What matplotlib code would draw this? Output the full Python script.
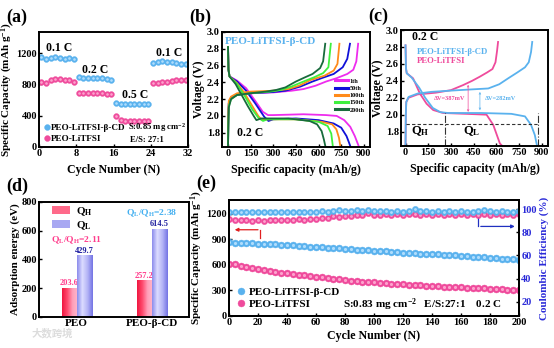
import numpy as np
import matplotlib
matplotlib.use("Agg")
import matplotlib.pyplot as plt
from matplotlib.colors import LinearSegmentedColormap
from matplotlib.patches import Patch
from matplotlib.lines import Line2D

plt.rcParams['font.family'] = ['Liberation Serif', 'DejaVu Serif']
plt.rcParams['font.weight'] = 'bold'
plt.rcParams['axes.labelweight'] = 'bold'
plt.rcParams['axes.linewidth'] = 1.4
plt.rcParams['mathtext.fontset'] = 'custom'
plt.rcParams['mathtext.rm'] = 'Liberation Serif:bold'
plt.rcParams['mathtext.it'] = 'Liberation Serif:italic:bold'
plt.rcParams['mathtext.bf'] = 'Liberation Serif:bold'

BLUE = '#5ab2ee'
PINK = '#ef4b9c'
BLUE_HI = '#bfe4ff'
PINK_HI = '#ffb3d6'
LAB = 8.6
YLAB = 8.0

# ---------------- (a) rate performance ----------------
rate_cycles = np.arange(1, 33) - 0.5
rate_cd = [1148, 1125, 1135, 1150, 1140, 1125, 1140, 1130,
           895, 885, 884, 883, 880, 884, 872, 862,
           556, 547, 545, 550, 548, 550, 545, 547,
           1075, 1090, 1098, 1092, 1085, 1078, 1066, 1064]
rate_ref = [830, 818, 862, 872, 866, 856, 850, 832,
            692, 688, 686, 688, 686, 684, 682, 674,
            393, 345, 336, 333, 332, 332, 331, 330,
            812, 818, 828, 834, 846, 860, 858, 850]
rate_labels = ['0.1 C', '0.2 C', '0.5 C', '0.1 C']
rate_label_pos = [(4.4, 1265), (12.1, 985), (20.6, 665), (27.9, 1200)]

# ---------------- (b) cycling charge/discharge curves ----------------
b_names = ['1th', '50th', '100th', '150th', '200th']
b_colors = ['#ee2cee', '#1010d8', '#ff8a1a', '#3ef03e', '#186b3c']
b_dis_cap = [
    [0, 3, 10, 60, 120, 180, 230, 265, 300, 500, 650, 720, 770, 810, 840, 868],
    [0, 3, 10, 60, 120, 180, 240, 268, 300, 450, 600, 700, 750, 785, 800, 812],
    [0, 3, 10, 60, 110, 160, 200, 225, 260, 450, 620, 690, 718, 735, 745],
    [0, 3, 10, 60, 110, 160, 200, 232, 260, 450, 600, 660, 684, 695],
    [0, 3, 10, 50, 90, 130, 170, 188, 220, 400, 540, 590, 620, 635, 646],
]
b_dis_v = [
    [2.82, 2.55, 2.47, 2.42, 2.33, 2.18, 2.05, 2.01, 2.01, 2.02, 2.01, 2.00, 1.95, 1.87, 1.76, 1.63],
    [2.82, 2.55, 2.47, 2.41, 2.30, 2.15, 1.99, 1.94, 1.96, 1.97, 1.95, 1.91, 1.86, 1.76, 1.69, 1.63],
    [2.82, 2.55, 2.47, 2.39, 2.27, 2.12, 2.00, 1.95, 1.96, 1.96, 1.93, 1.90, 1.84, 1.74, 1.63],
    [2.82, 2.55, 2.47, 2.38, 2.24, 2.08, 1.98, 1.94, 1.96, 1.96, 1.93, 1.88, 1.79, 1.63],
    [2.82, 2.55, 2.47, 2.38, 2.25, 2.12, 2.00, 1.95, 1.97, 1.97, 1.94, 1.90, 1.82, 1.72, 1.63],
]
b_chg_cap = [
    [0, 2, 5, 20, 60, 150, 300, 420, 500, 580, 650, 720, 790, 830, 850, 862],
    [0, 2, 5, 20, 60, 150, 300, 380, 480, 560, 620, 700, 760, 790, 808],
    [0, 2, 5, 20, 60, 150, 300, 400, 470, 550, 640, 700, 725, 738],
    [0, 2, 5, 20, 60, 150, 280, 350, 420, 500, 570, 630, 665, 681],
    [0, 2, 5, 20, 60, 150, 250, 320, 380, 450, 510, 560, 610, 630, 644],
]
b_chg_v = [
    [1.63, 2.00, 2.15, 2.22, 2.25, 2.27, 2.28, 2.30, 2.32, 2.36, 2.41, 2.45, 2.50, 2.55, 2.65, 2.86],
    [1.63, 2.00, 2.15, 2.22, 2.25, 2.27, 2.285, 2.30, 2.35, 2.41, 2.45, 2.50, 2.58, 2.68, 2.86],
    [1.63, 2.05, 2.18, 2.23, 2.27, 2.29, 2.30, 2.32, 2.36, 2.43, 2.48, 2.54, 2.62, 2.86],
    [1.63, 1.90, 2.12, 2.20, 2.25, 2.27, 2.29, 2.31, 2.35, 2.41, 2.46, 2.51, 2.58, 2.86],
    [1.63, 1.85, 2.10, 2.20, 2.25, 2.27, 2.29, 2.31, 2.34, 2.41, 2.46, 2.50, 2.57, 2.65, 2.86],
]

# ---------------- (c) comparison curves ----------------
c_cd_dis_cap = [0, 3, 8, 40, 90, 130, 180, 230, 280, 500, 700, 790, 830, 855, 870]
c_cd_dis_v = [2.82, 2.55, 2.49, 2.44, 2.32, 2.20, 2.08, 2.03, 2.02, 2.02, 2.01, 1.98, 1.88, 1.76, 1.63]
c_cd_chg_cap = [0, 2, 5, 20, 80, 172, 350, 547, 620, 679, 740, 790, 815, 830, 838]
c_cd_chg_v = [1.63, 2.00, 2.15, 2.21, 2.25, 2.27, 2.29, 2.31, 2.36, 2.43, 2.50, 2.56, 2.62, 2.74, 2.86]
c_ref_dis_cap = [0, 3, 8, 50, 95, 139, 183, 249, 400, 536, 580, 624, 640]
c_ref_dis_v = [2.82, 2.55, 2.49, 2.43, 2.25, 2.13, 2.055, 2.02, 2.01, 2.00, 1.88, 1.66, 1.63]
c_ref_chg_cap = [0, 2, 5, 20, 80, 200, 300, 381, 440, 492, 540, 575, 595, 605, 612]
c_ref_chg_v = [1.63, 2.00, 2.15, 2.20, 2.24, 2.26, 2.29, 2.35, 2.40, 2.45, 2.50, 2.54, 2.62, 2.75, 2.86]
q_split_cap = [260, 874]
q_level_v = 1.886
dv_ref = (414, 2.00, 2.387)
dv_cd = (492, 2.02, 2.302)

# ---------------- (d) adsorption energy ----------------
d_groups = ['PEO', 'PEO-β-CD']
d_qh = [203.6, 257.2]
d_ql = [429.7, 614.5]
d_ratio = ['Q$_\\mathrm{L}$/Q$_\\mathrm{H}$=2.11', 'Q$_\\mathrm{L}$/Q$_\\mathrm{H}$=2.38']

# ---------------- (e) long cycling ----------------
e_cycles = np.arange(0, 201, 4)
e_cap_cd = [868, 858, 853, 851, 852, 850, 847, 843, 839, 836,
            832, 828, 823, 819, 814, 810, 806, 801, 796, 792,
            787, 783, 778, 774, 769, 765, 761, 757, 753, 749,
            745, 741, 737, 733, 729, 725, 722, 718, 714, 710,
            706, 701, 696, 691, 687, 682, 677, 672, 667, 663, 658]
e_cap_ref = [608, 614, 590, 575, 560, 547, 537, 527, 517, 508,
             499, 491, 483, 476, 468, 461, 453, 445, 437, 429,
             421, 415, 409, 404, 398, 393, 388, 383, 378, 374,
             370, 366, 362, 358, 355, 352, 349, 346, 343, 340,
             337, 334, 331, 328, 325, 322, 318, 314, 310, 306, 302]
e_ce_cd = [97.5, 97.8, 97.6, 97.9, 97.7, 97.8, 97.6, 97.9, 98.0, 97.8,
           97.9, 97.7, 98.0, 97.8, 98.1, 97.9, 98.2, 98.0, 98.8, 99.0,
           98.6, 98.9, 99.2, 98.8, 99.6, 98.9, 98.4, 98.2, 98.0, 98.3,
           98.1, 98.4, 99.9, 98.6, 98.3, 98.1, 98.2, 98.0, 98.3, 98.1,
           98.2, 98.0, 98.1, 98.3, 99.6, 98.2, 98.0, 98.2, 98.1, 98.0, 98.2]
e_ce_ref = [91.5, 90.8, 90.5, 90.7, 90.2, 90.6, 90.3, 90.8, 90.5, 90.9,
            90.7, 91.0, 91.2, 91.0, 91.4, 91.8, 92.3, 92.8, 94.0, 93.6,
            94.2, 94.6, 95.0, 95.3, 96.5, 95.4, 95.5, 95.6, 95.5, 95.6,
            95.5, 95.6, 95.6, 95.5, 95.6, 95.5, 95.6, 95.5, 95.6, 95.5,
            95.6, 95.5, 95.6, 95.5, 95.6, 95.5, 95.6, 95.5, 95.6, 95.5, 95.6]


def style(ax, size=7.5):
    ax.tick_params(direction='in', length=2.5, width=1.0, labelsize=size, pad=1.5)
    for lab in ax.get_xticklabels() + ax.get_yticklabels():
        lab.set_fontweight('bold')


def balls(ax, x, y, color, hi, ms, label=None):
    ax.plot(x, y, 'o', color=color, ms=ms, mec=color, mew=0.3, ls='none', label=label)
    ax.plot(x, y, 'o', color=hi, ms=ms * 0.45, mew=0, ls='none', alpha=0.85)


fig = plt.figure(figsize=(5.54, 3.48), dpi=100)
ax_a = fig.add_axes([0.0704, 0.5776, 0.269, 0.3305])
ax_b = fig.add_axes([0.4007, 0.5776, 0.267, 0.3305])
ax_c = fig.add_axes([0.7238, 0.5805, 0.2653, 0.333])
ax_d = fig.add_axes([0.0704, 0.0891, 0.2708, 0.3305])
ax_e = fig.add_axes([0.4134, 0.092, 0.5235, 0.333])

# (a)
balls(ax_a, rate_cycles, rate_cd, BLUE, BLUE_HI, 4.2, 'PEO-LiTFSI-β-CD')
balls(ax_a, rate_cycles, rate_ref, PINK, PINK_HI, 4.2, 'PEO-LiTFSI')
for t, (x, y) in zip(rate_labels, rate_label_pos):
    ax_a.text(x, y, t, ha='center', va='center', fontsize=8.5, fontweight='bold')
ax_a.set_xlim(0, 32)
ax_a.set_ylim(0, 1470)
ax_a.set_xticks([0, 8, 16, 24, 32])
ax_a.set_yticks([0, 400, 800, 1200])
ax_a.set_xlabel('Cycle Number (N)', fontsize=LAB, labelpad=4)
ax_a.set_ylabel('Specific Capacity (mAh g$^{-1}$)', fontsize=YLAB, labelpad=1)
ax_a.legend(loc='lower left', fontsize=6.6, frameon=False, handletextpad=0.05,
            handlelength=0.9, labelspacing=0.3, borderaxespad=0.0,
            bbox_to_anchor=(0.0, 0.0))
ax_a.text(19.2, 243, 'S:0.85 mg cm$^{-2}$', ha='left', va='center', fontsize=6.2)
ax_a.text(19.6, 89, 'E/S: 27:1', ha='left', va='center', fontsize=6.2)
style(ax_a)

# (b)
for i in range(5):
    ax_b.plot(b_dis_cap[i], b_dis_v[i], color=b_colors[i], lw=1.3)
    ax_b.plot(b_chg_cap[i], b_chg_v[i], color=b_colors[i], lw=1.3)
handles_b = [Line2D([], [], color=c, lw=2.2) for c in b_colors]
ax_b.legend(handles_b, b_names, loc='upper left', bbox_to_anchor=(0.75, 0.62),
            fontsize=4.5, frameon=False, handlelength=2.0, handletextpad=0.3,
            labelspacing=0.3, borderaxespad=0)
ax_b.text(-22, 2.885, 'PEO-LiTFSI-β-CD', color=BLUE, fontsize=8, va='center')
ax_b.text(62, 1.795, '0.2 C', fontsize=8.5, va='center', ha='left')
ax_b.set_xlim(-40, 940)
ax_b.set_ylim(1.63, 3.0)
ax_b.set_xticks(np.arange(0, 901, 150))
ax_b.set_yticks([1.8, 2.0, 2.2, 2.4, 2.6, 2.8, 3.0])
ax_b.set_xlabel('Specific capacity (mAh/g)', fontsize=LAB, labelpad=4)
ax_b.set_ylabel('Voltage (V)', fontsize=LAB, labelpad=1)
style(ax_b)

# (c)
ax_c.plot(c_ref_dis_cap, c_ref_dis_v, color=PINK, lw=1.3)
ax_c.plot(c_ref_chg_cap, c_ref_chg_v, color=PINK, lw=1.3)
ax_c.plot(c_cd_dis_cap, c_cd_dis_v, color=BLUE, lw=1.3)
ax_c.plot(c_cd_chg_cap, c_cd_chg_v, color=BLUE, lw=1.3)
ax_c.plot([0, 878], [q_level_v, q_level_v], color='#333333', lw=0.8, ls=(0, (3, 2)))
for q in q_split_cap:
    ax_c.plot([q, q], [1.63, 2.02], color='#333333', lw=0.8, ls='-.')
ax_c.annotate('', xy=(dv_ref[0], dv_ref[1]), xytext=(dv_ref[0], dv_ref[2]),
              arrowprops=dict(arrowstyle='<->', color=PINK, lw=0.5, mutation_scale=3))
ax_c.annotate('', xy=(dv_cd[0], dv_cd[1]), xytext=(dv_cd[0], dv_cd[2]),
              arrowprops=dict(arrowstyle='<->', color=BLUE, lw=0.5, mutation_scale=3))
ax_c.text(293, 2.19, 'ΔV=387mV', color=PINK, fontsize=4.5, ha='center', va='center')
ax_c.text(631, 2.19, 'ΔV=282mV', color=BLUE, fontsize=4.5, ha='center', va='center')
ax_c.text(42, 2.92, '0.2 C', fontsize=8.5, va='center')
ax_c.text(73, 2.745, 'PEO-LiTFSI-β-CD', color=BLUE, fontsize=6.3, va='center')
ax_c.text(73, 2.635, 'PEO-LiTFSI', color=PINK, fontsize=6.3, va='center')
ax_c.text(100, 1.80, 'Q$_\\mathrm{H}$', fontsize=9, ha='center', va='center')
ax_c.text(437, 1.80, 'Q$_\\mathrm{L}$', fontsize=9, ha='center', va='center')
ax_c.set_xlim(-30, 942)
ax_c.set_ylim(1.63, 3.0)
ax_c.set_xticks(np.arange(0, 901, 150))
ax_c.set_yticks([1.8, 2.0, 2.2, 2.4, 2.6, 2.8, 3.0])
ax_c.set_xlabel('Specific capacity (mAh/g)', fontsize=LAB, labelpad=4)
ax_c.set_ylabel('Voltage (V)', fontsize=LAB, labelpad=1)
style(ax_c)

# (d)
pos = np.arange(len(d_groups))
w = 0.2
cm_h = LinearSegmentedColormap.from_list('qh', ['#f0163f', '#ff4a6e', '#ff9fba', '#ffb8cc'])
cm_l = LinearSegmentedColormap.from_list('ql', ['#8c8cec', '#dcdcff', '#b4b4f6', '#7474e4'])
bars_h = ax_d.bar(pos - w / 2, d_qh, w, color='#ff5c80', zorder=2)
bars_l = ax_d.bar(pos + w / 2, d_ql, w, color='#a8a8f2', zorder=2)
grad = np.linspace(0, 1, 64).reshape(1, -1)
for bars, cm in [(bars_h, cm_h), (bars_l, cm_l)]:
    for b in bars:
        x0, bw, h = b.get_x(), b.get_width(), b.get_height()
        im = ax_d.imshow(grad, cmap=cm, extent=(x0, x0 + bw, 0, h), aspect='auto', zorder=2.5)
        im.set_clip_path(b)
for i in range(len(d_groups)):
    ax_d.text(pos[i] - w / 2, d_qh[i] + 2, f'{d_qh[i]:.1f}', color='#ff3c8c', fontsize=6.0,
              ha='center', va='bottom', zorder=1)
    ax_d.text(pos[i] + w / 2, d_ql[i] + 2, f'{d_ql[i]:.1f}', color='#2020a0', fontsize=6.0,
              ha='center', va='bottom')
ax_d.text(0.0, 535, d_ratio[0], color='#ff3c8c', fontsize=6.8, ha='center', va='center')
ax_d.text(1.0, 722, d_ratio[1], color='#45b0f0', fontsize=6.8, ha='center', va='center')
ax_d.legend([Patch(facecolor='#ff6a8a'), Patch(facecolor='#a8a8f2')],
            ['Q$_\\mathrm{H}$', 'Q$_\\mathrm{L}$'], loc='upper left', fontsize=8,
            frameon=False, handlelength=1.6, handleheight=0.8, handletextpad=0.5,
            labelspacing=0.1, borderaxespad=0.0, bbox_to_anchor=(0.06, 1.01))
ax_d.set_xlim(-0.5, 1.5)
ax_d.set_ylim(0, 800)
ax_d.set_xticks(pos)
ax_d.set_xticklabels(d_groups)
ax_d.set_yticks(np.arange(0, 801, 200))
ax_d.set_ylabel('Adsorption energy (eV)', fontsize=YLAB, labelpad=1)
style(ax_d)
ax_d.tick_params(axis='x', length=0, labelsize=8)

# (e)
ax_e2 = ax_e.twinx()
balls(ax_e, e_cycles, e_cap_cd, BLUE, BLUE_HI, 5.0, 'PEO-LiTFSI-β-CD')
balls(ax_e, e_cycles, e_cap_ref, PINK, PINK_HI, 5.0, 'PEO-LiTFSI')
balls(ax_e2, e_cycles, e_ce_ref, PINK, PINK_HI, 4.5)
balls(ax_e2, e_cycles, e_ce_cd, BLUE, BLUE_HI, 4.5)
ax_e.plot([21.6, 21.6], [914, 1012], color='#e02020', lw=0.9)
ax_e.annotate('', xy=(2, 1012), xytext=(21.9, 1012),
              arrowprops=dict(arrowstyle='-|>', color='#e02020', lw=0.9, mutation_scale=5))
ax_e.plot([172, 172], [1169, 1051], color='#2030c0', lw=0.9)
ax_e.annotate('', xy=(199, 1051), xytext=(171.7, 1051),
              arrowprops=dict(arrowstyle='-|>', color='#2030c0', lw=0.9, mutation_scale=5))
ax_e.legend(loc='lower left', fontsize=8, frameon=False, handletextpad=0.2,
            handlelength=1.0, labelspacing=0.25, borderaxespad=0.2)
ax_e.text(133, 128, 'S:0.83 mg cm$^{-2}$   E/S:27:1    0.2 C', ha='center', va='center',
          fontsize=8)
ax_e.set_xlim(0, 200)
ax_e.set_ylim(0, 1360)
ax_e.set_xticks(np.arange(0, 201, 20))
ax_e.set_yticks([0, 300, 600, 900, 1200])
ax_e.set_xlabel('Cycle Number (N)', fontsize=LAB, labelpad=2)
ax_e.set_ylabel('Specific Capacity (mAh g$^{-1}$)', fontsize=YLAB, labelpad=1)
ax_e2.set_ylim(7.5, 108)
ax_e2.set_yticks([20, 40, 60, 80, 100])
ax_e2.set_ylabel('Coulombic Efficiency (%)', fontsize=YLAB, color='#2a2ad8', labelpad=2)
style(ax_e)
style(ax_e2)
ax_e2.tick_params(axis='y', labelcolor='#2a2ad8')

# panel tags
for tag, (px, py) in zip(['(a)', '(b)', '(c)', '(d)', '(e)'],
                         [(17, 17), (200, 17), (378, 16), (17, 186), (206, 183)]):
    fig.text(px / 554, 1 - py / 348, tag, fontsize=13, fontweight='bold', ha='center', va='center')

fig.text(32 / 554, 1 - 333 / 348, '大数跨境', fontsize=7.5, color='#dcdcdc', va='center',
         family=['Noto Sans CJK SC', 'DejaVu Sans'])

fig.savefig('out.png', dpi=100)
